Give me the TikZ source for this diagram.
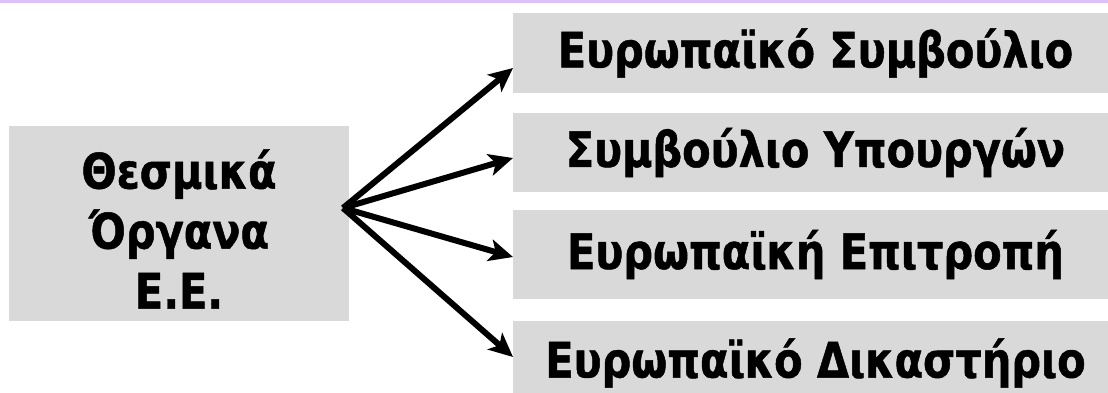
\documentclass[tikz,border=0pt]{standalone}
\usepackage{fontspec}
\setmainfont{DejaVu Sans Condensed}[BoldFeatures={FakeBold=1.0, FakeStretch=0.94}]
\usetikzlibrary{arrows.meta}

\definecolor{boxgrey}{RGB}{217,217,217}
\definecolor{lilac}{RGB}{220,192,248}

\begin{document}
\begin{tikzpicture}[x=1pt, y=-1pt, >={Stealth[length=24pt, width=22pt, inset=6pt]},
    organ/.style = {fill=boxgrey, inner sep=0pt, font=\fontsize{49}{60}\selectfont\bfseries},
    arrow/.style = {->, line width=6pt}]
    \useasboundingbox (0,0) rectangle (1108,392);
    \fill[lilac] (0,0) rectangle (1108,3);

    % Nodes

    \node[organ, minimum width=340pt, minimum height=195pt] (main) at (179,223.5) {};
    \node[font=\fontsize{49}{60}\selectfont\bfseries, align=center] (mainlabel) at (179,229)
        {Θεσμικά\\Όργανα\\Ε.Ε.};

    \node[organ, minimum width=605pt, minimum height=80pt] (council) at (815.5,53) {Ευρωπαϊκό Συμβούλιο};
    \node[organ, minimum width=605pt, minimum height=79pt] (ministers) at (815.5,152.5) {Συμβούλιο Υπουργών};
    \node[organ, minimum width=605pt, minimum height=89pt] (commission) at (815.5,254.5) {Ευρωπαϊκή Επιτροπή};
    \node[organ, minimum width=605pt, minimum height=84pt] (court) at (815.5,363) {Ευρωπαϊκό Δικαστήριο};

    \coordinate (src) at (343,208);
    \coordinate (t1) at (513,68);
    \coordinate (t2) at (513,158);
    \coordinate (t3) at (513,257);
    \coordinate (t4) at (513,357);

    % Edges

    \draw[arrow] (src) -- (t1);
    \draw[arrow] (src) -- (t2);
    \draw[arrow] (src) -- (t3);
    \draw[arrow] (src) -- (t4);

\end{tikzpicture}
\end{document}
